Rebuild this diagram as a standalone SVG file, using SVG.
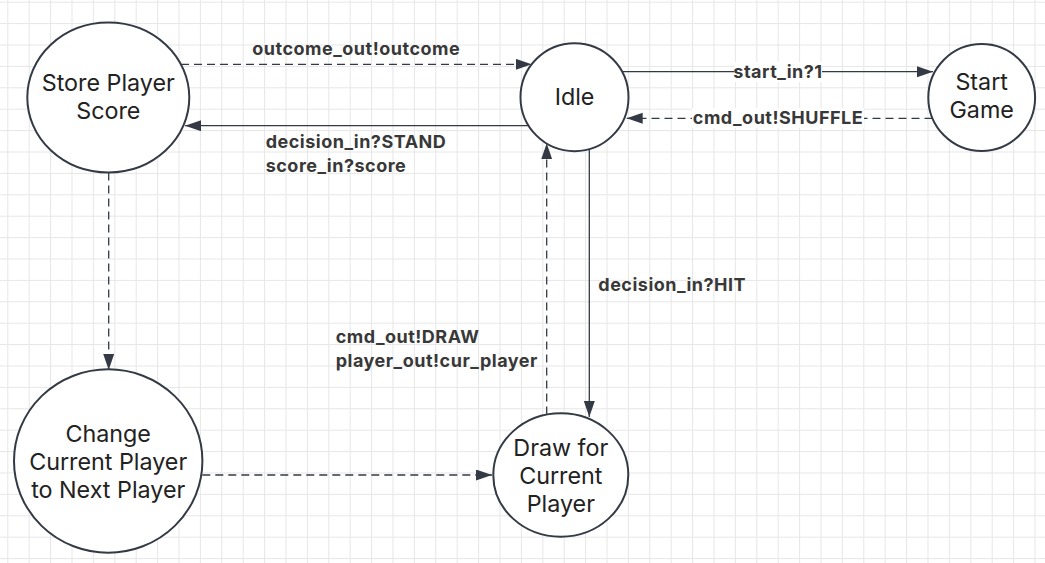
<svg xmlns="http://www.w3.org/2000/svg" width="1045" height="563" viewBox="0 0 1045 563">
<style>
.node ellipse{fill:#fff;stroke:#343a45;stroke-width:2}
.node text{font-family:Inter,"Noto Sans","Liberation Sans",sans-serif;font-size:23.3px;fill:#222;text-anchor:middle}
.edge{fill:none;stroke:#343a45;stroke-width:1.3}
.dash{stroke-dasharray:8 5}
.lbl{font-family:Inter,"Noto Sans","Liberation Sans",sans-serif;font-size:18px;font-weight:700;letter-spacing:0.5px;fill:#383838}
.bg{fill:#fff}
</style>
<defs>
<pattern id="grid" patternUnits="userSpaceOnUse" x="7.3" y="1.7" width="21.4" height="21.4">
<path d="M0,0.5 H21.4 M0.5,0 V21.4" fill="none" stroke="#e6e6e6" stroke-width="1"/>
</pattern>
<marker id="arr" markerUnits="userSpaceOnUse" markerWidth="18" markerHeight="12" refX="16" refY="5.5" orient="auto">
<path d="M0,0 L16,5.5 L0,11 z" fill="#343a45"/>
</marker>
</defs>
<rect width="1045" height="563" fill="#fff"/>
<rect width="1045" height="563" fill="url(#grid)"/>

<g id="connectors">
<path class="edge dash" d="M181,64.3 H531.7" marker-end="url(#arr)"/>
<path class="edge" d="M528.6,125.7 H185" marker-end="url(#arr)"/>
<path class="edge" d="M622,71.7 H933" marker-end="url(#arr)"/>
<path class="edge dash" d="M932.5,118.3 H626.7" marker-end="url(#arr)"/>
<path class="edge" d="M589.3,149 V417" marker-end="url(#arr)"/>
<path class="edge dash" d="M546.7,414.5 V143.3" marker-end="url(#arr)"/>
<path class="edge dash" d="M108.7,172.5 V370" marker-end="url(#arr)"/>
<path class="edge dash" d="M202.3,475 H492" marker-end="url(#arr)"/>
<text class="lbl" x="252.3" y="55">outcome_out!outcome</text>
<text class="lbl" x="265.7" y="148.3">decision_in?STAND</text>
<text class="lbl" x="265.7" y="171.5">score_in?score</text>
<rect class="bg" x="734" y="62" width="88" height="20"/>
<text class="lbl" x="778" y="78" text-anchor="middle">start_in?1</text>
<rect class="bg" x="692" y="108" width="172" height="20"/>
<text class="lbl" x="778" y="124" text-anchor="middle">cmd_out!SHUFFLE</text>
<text class="lbl" x="598.3" y="290.7">decision_in?HIT</text>
<text class="lbl" x="335.7" y="343.3">cmd_out!DRAW</text>
<text class="lbl" x="335.7" y="366.5">player_out!cur_player</text>
</g>

<g id="store-player-score" class="node">
<ellipse cx="108.3" cy="97.5" rx="81" ry="75"/>
<text x="108.3" y="90.7">Store Player</text>
<text x="108.3" y="119">Score</text>
</g>
<g id="idle" class="node">
<ellipse cx="574.5" cy="97.2" rx="54" ry="54"/>
<text x="574.5" y="105">Idle</text>
</g>
<g id="start-game" class="node">
<ellipse cx="981.7" cy="97.5" rx="53.4" ry="53.5"/>
<text x="981.7" y="90">Start</text>
<text x="981.7" y="118.3">Game</text>
</g>
<g id="change-current-player" class="node">
<ellipse cx="108.2" cy="461" rx="94.2" ry="91.7"/>
<text x="108.2" y="441.7">Change</text>
<text x="108.2" y="469.5">Current Player</text>
<text x="108.2" y="497.5">to Next Player</text>
</g>
<g id="draw-for-current-player" class="node">
<ellipse cx="560.8" cy="475" rx="67.5" ry="61.7"/>
<text x="560.8" y="456">Draw for</text>
<text x="560.8" y="484">Current</text>
<text x="560.8" y="511.7">Player</text>
</g>
</svg>
